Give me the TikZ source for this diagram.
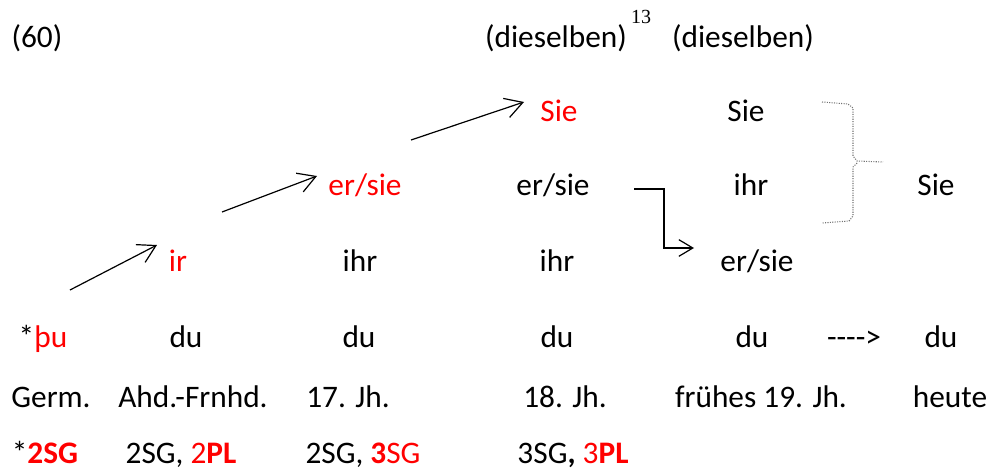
\documentclass[tikz,border=0pt]{standalone}
\usepackage{fontspec}
\setmainfont{Carlito}
\newfontfamily\notefont{Liberation Serif}
\usetikzlibrary{arrows.meta}
\usetikzlibrary{positioning,calc}
\tikzset{form/.style={inner sep=0pt,anchor=base,font=\fontsize{23.5}{28}\selectfont},
		formRed/.style={form,text=red},
		noteMark/.style={inner sep=0pt,anchor=base,font=\notefont\fontsize{15}{17}\selectfont},
		shiftEdge/.style={-{Straight Barb[length=13pt,width=15pt]},line width=0.9pt},
		stepEdge/.style={-{Straight Barb[length=10.5pt,width=12.5pt]},line width=0.9pt},
		braceLine/.style={densely dotted,black!55,line width=0.8pt}}

\begin{document}
\begin{tikzpicture}[x=0.75pt,y=-0.75pt]
	\useasboundingbox (0,0) rectangle (990,471);
		%header
		\node at (37,47) [form] (ex){(60)};
		\node at (556,47) [form] (same1){(dieselben)};
		\node at (641,23) [noteMark] (fn){13};
		\node at (743,47) [form] (same2){(dieselben)};
		%row 1
		\node at (559,121) [formRed] (sieA){Sie};
		\node at (746,121) [form] (sieB){Sie};
		%row 2
		\node at (365,195) [formRed] (erA){er/sie};
		\node at (553,195) [form] (erB){er/sie};
		\node at (751,195) [form] (ihrC){ihr};
		\node at (936,195) [form] (sieC){Sie};
		%row 3
		\node at (178,271) [formRed] (ir){ir};
		\node at (360,271) [form] (ihrA){ihr};
		\node at (557,271) [form] (ihrB){ihr};
		\node at (757,271) [form] (erC){er/sie};
		%row du
		\node at (43,347) [form] (thu){*{\color{red}þu}};
		\node at (186,347) [form] (du1){du};
		\node at (359,347) [form] (du2){du};
		\node at (557,347) [form] (du3){du};
		\node at (752,347) [form] (du4){du};
		\node at (854,347) [form] (dash){-{}-{}-{}-{}>};
		\node at (941,347) [form] (du5){du};
		%periods
		\node at (51,407) [form] (germ){Germ.};
		\node at (193,407) [form] (ahd){Ahd.-Frnhd.};
		\node at (348,407) [form] (jh17){17. Jh.};
		\node at (565,407) [form] (jh18){18. Jh.};
		\node at (761,407) [form] (jh19){frühes 19. Jh.};
		\node at (950,407) [form] (today){heute};
		%categories
		\node at (45,463) [form] (cat1){*{\color{red}\textbf{2SG}}};
		\node at (181,463) [form] (cat2){2SG, {\color{red}2\textbf{PL}}};
		\node at (363,463) [form] (cat3){2SG, {\color{red}\textbf{3}SG}};
		\node at (573,463) [form] (cat4){3SG\textbf{,} {\color{red}3\textbf{PL}}};

		\coordinate (s1) at (70,290);
		\coordinate (e1) at (157,245);
		\coordinate (s2) at (222,212);
		\coordinate (e2) at (317,176);
		\coordinate (s3) at (411,140);
		\coordinate (e3) at (524,102);
		\coordinate (s4) at (634,189);
		\coordinate (e4) at (694,248);

		\draw[shiftEdge] (s1) -- (e1);
		\draw[shiftEdge] (s2) -- (e2);
		\draw[shiftEdge] (s3) -- (e3);
		\draw[stepEdge] (s4) -| ($(e4)+(-30,0)$) -- (e4);

		%brace
		\draw[braceLine] (822,102) -- (848,104) -- (853,108) -- (853,156) -- (857,161) -- (883,162);
		\draw[braceLine] (857,163) -- (853,167) -- (853,216) -- (849,221) -- (822,223);
\end{tikzpicture}
\end{document}
